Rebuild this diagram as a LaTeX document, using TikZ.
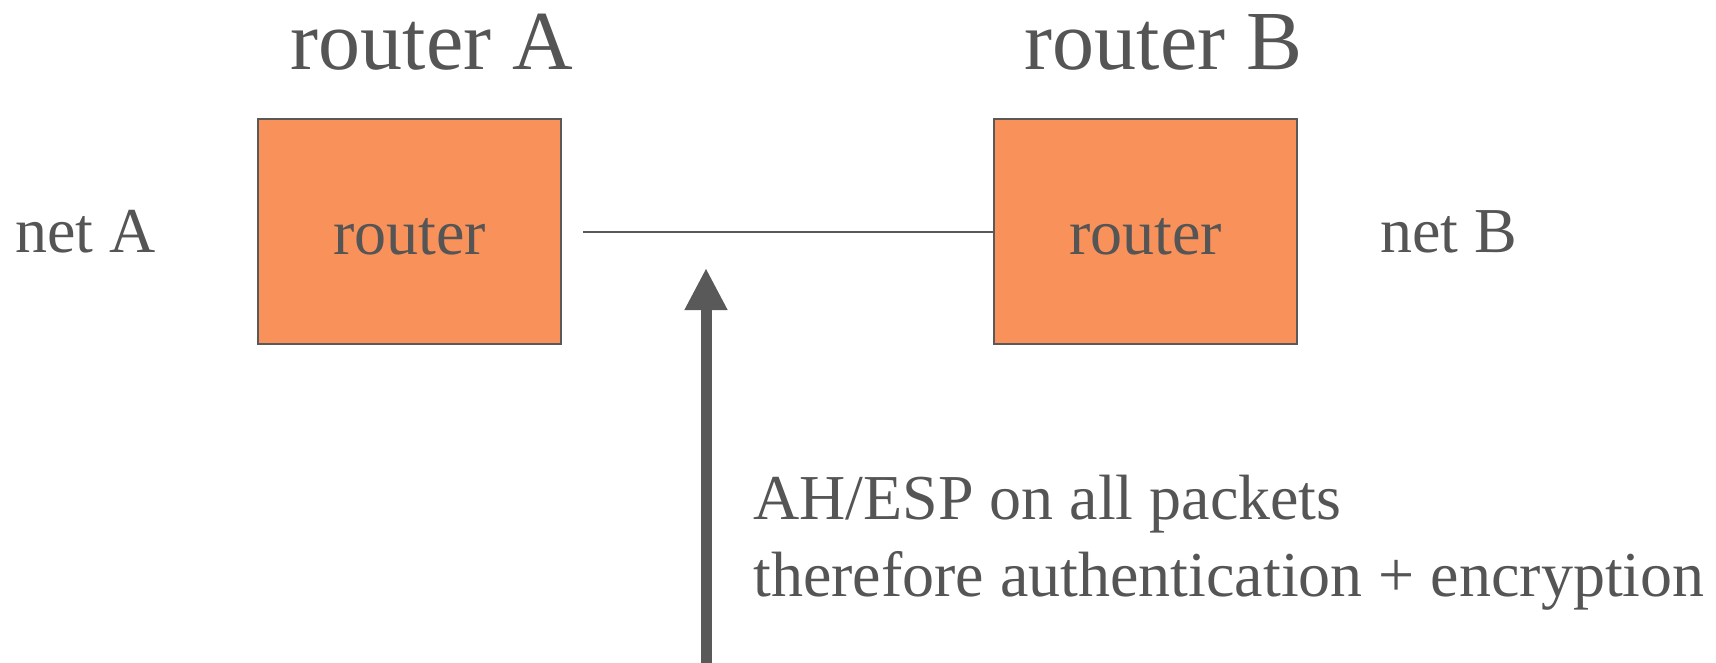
\documentclass[tikz,border=0pt]{standalone}
\usepackage{fontspec}
\setmainfont{Liberation Serif}
\usetikzlibrary{arrows.meta,positioning}
\definecolor{TextGray}{HTML}{555555}
\definecolor{RouterOrange}{HTML}{F9915A}
\definecolor{EdgeGray}{HTML}{595959}

\begin{document}
\begin{tikzpicture}[x=1pt,y=-1pt,
  every node/.style={text=TextGray,inner sep=0pt},
  router/.style={draw=EdgeGray,fill=RouterOrange,line width=2.5pt,outer sep=0pt,minimum width=303pt,minimum height=225pt,text height=46pt,text depth=0pt,font=\fontsize{64}{77}\selectfont},
  title/.style={font=\fontsize{84}{100}\selectfont},
  label/.style={font=\fontsize{64}{77}\selectfont,align=left},
  link/.style={draw=EdgeGray,line width=2pt},
  arrow/.style={-{Triangle[width=40pt,length=42pt]},line width=11pt,draw=EdgeGray}
]
\useasboundingbox (0,0) rectangle (1716,662);
\node[router] (rA) at (409.5,231.5) {router};
\node[router,right=433pt of rA] (rB) {router};
\node[title,above=48pt of rA.north,xshift=22.5pt] (tA) {router A};
\node[title,above=48pt of rB.north,xshift=18pt] (tB) {router B};
\node[label,left=102pt of rA] (nA) {net A};
\node[label,right=83pt of rB] (nB) {net B};
\draw[link] ([xshift=22pt]rA.east) -- (rB.west);
\coordinate (tail) at (706,680);
\coordinate (tip) at (706,268);
\draw[arrow] (tail) -- (tip);
\node[label,anchor=base west] (note) at (753,596) {AH/ESP on all packets\\therefore authentication + encryption};
\end{tikzpicture}
\end{document}
